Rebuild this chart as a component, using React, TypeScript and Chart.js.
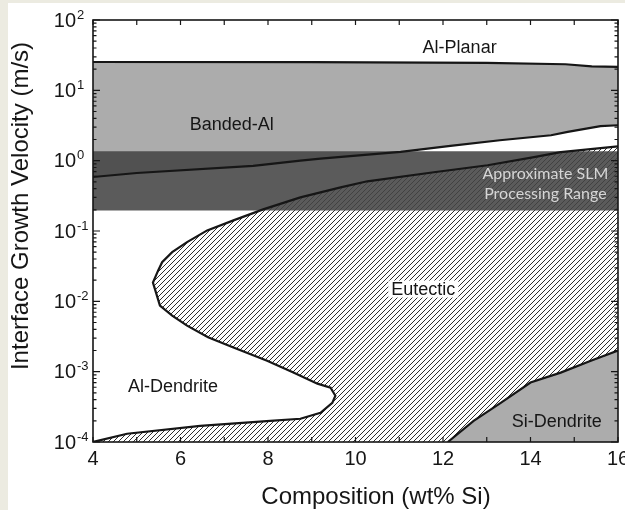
import React, { useEffect, useRef } from 'react';
import { Chart, registerables } from 'chart.js';

Chart.register(...registerables);

// ---- axis ranges & ticks ----
const X_MIN = 4;
const X_MAX = 16;
const Y_MIN = 1e-4;
const Y_MAX = 100;
const xTickStep = 2;
const yTickExponents = [-4, -3, -2, -1, 0, 1, 2];

// ---- Al-Planar / Banded-Al boundary ----
const bandedTopX = [4, 9, 13, 14.8, 15.4, 16];
const bandedTopY = [25.3, 25.2, 24.5, 23.5, 21.9, 21.5];

// ---- Banded-Al lower boundary ----
const bandedBottomX = [4, 5.0, 7.66, 8.74, 9.2, 11.03, 12.17, 13.3, 14.47, 14.85, 15.6, 16];
const bandedBottomY = [0.586, 0.668, 0.841, 1.0, 1.07, 1.33, 1.62, 1.95, 2.3, 2.56, 3.09, 3.19];

// ---- Eutectic boundary (right edge -> nose -> Al-dendrite pocket -> bottom-left) ----
const eutecticX = [16, 14.69, 14.08, 13.02, 11.79, 10.27, 9.66, 8.74, 7.89, 7.21, 6.61, 6.15, 5.81, 5.58, 5.49, 5.37,
  5.53, 5.81, 6.15, 6.63, 7.21, 7.98, 8.58, 9.13, 9.43, 9.54, 9.47, 9.2, 8.74, 8.05, 6.45, 4.78, 4];
const eutecticY = [1.6, 1.32, 1.12, 0.86, 0.684, 0.509, 0.418, 0.301, 0.203, 0.1416, 0.102, 0.0695, 0.05, 0.036, 0.0275, 0.0185,
  0.0087, 0.00628, 0.00452, 0.00308, 0.0022, 0.00143, 9.7e-4, 6.75e-4, 5.9e-4, 4.55e-4, 3.6e-4, 2.6e-4, 2.14e-4, 2.0e-4, 1.7e-4, 1.31e-4, 1e-4];

// ---- Si-Dendrite boundary ----
const siDendriteX = [12.11, 12.7, 13.32, 14.0, 14.69, 15.38, 16];
const siDendriteY = [1e-4, 2.0e-4, 3.6e-4, 7.0e-4, 9.7e-4, 1.43e-3, 2.0e-3];

// ---- Approximate SLM processing range ----
const slmRange = [0.196, 1.36];

const BEIGE = '#ecebe1';
const LIGHT_GRAY = '#acacac';
const BAND = 'rgba(68,68,68,0.88)';
const INK = '#161616';
const SANS = '"Liberation Sans", Arial, Helvetica, sans-serif';

function makeHatch(): CanvasPattern {
  const s = 5;
  const c = document.createElement('canvas');
  c.width = s;
  c.height = s;
  const g = c.getContext('2d')!;
  g.fillStyle = '#ffffff';
  g.fillRect(0, 0, s, s);
  g.strokeStyle = '#2e2e2e';
  g.lineWidth = 1;
  g.beginPath();
  g.moveTo(-1, s + 1);
  g.lineTo(s + 1, -1);
  g.moveTo(-1, 1);
  g.lineTo(1, -1);
  g.moveTo(s - 1, s + 1);
  g.lineTo(s + 1, s - 1);
  g.stroke();
  return g.createPattern(c, 'repeat')!;
}

const pts = (xs: number[], ys: number[]) => xs.map((x, i) => ({ x, y: ys[i] }));

const decor = {
  id: 'decor',
  beforeDraw(chart: any) {
    const { ctx, width, height } = chart;
    ctx.save();
    ctx.fillStyle = BEIGE;
    ctx.fillRect(0, 0, width, height);
    ctx.fillStyle = '#ffffff';
    ctx.fillRect(8, 3, width - 8, height - 3);
    ctx.restore();
  },
  afterDatasetsDraw(chart: any) {
    const { ctx, chartArea: a, scales } = chart;
    const xs = scales.x;
    const ys = scales.y;
    ctx.save();
    // region labels
    const put = (text: string, x: number, y: number, font: string, color: string, box = false) => {
      const px = xs.getPixelForValue(x);
      const py = ys.getPixelForValue(y);
      ctx.font = font;
      ctx.textAlign = 'center';
      ctx.textBaseline = 'middle';
      if (box) {
        const w = ctx.measureText(text).width;
        ctx.fillStyle = '#ffffff';
        ctx.fillRect(px - w / 2 - 3, py - 9, w + 6, 17);
      }
      ctx.fillStyle = color;
      ctx.fillText(text, px, py);
    };
    put('Al-Planar', 12.38, 39.8, `18px ${SANS}`, INK);
    put('Banded-Al', 7.17, 3.24, `18px ${SANS}`, INK);
    put('Eutectic', 11.55, 0.0147, `18px ${SANS}`, INK, true);
    put('Al-Dendrite', 5.83, 6.0e-4, `18px ${SANS}`, INK);
    put('Si-Dendrite', 14.6, 1.94e-4, `18px ${SANS}`, INK);
    put('Approximate SLM', 14.34, 0.64, `16px Lato, "Open Sans", sans-serif`, '#d6d6d6');
    put('Processing Range', 14.34, 0.343, `16px Lato, "Open Sans", sans-serif`, '#d6d6d6');

    // frame
    ctx.strokeStyle = INK;
    ctx.lineWidth = 1.6;
    ctx.strokeRect(a.left, a.top, a.right - a.left, a.bottom - a.top);
    // inward x ticks
    ctx.lineWidth = 1.2;
    ctx.beginPath();
    for (let v = X_MIN; v <= X_MAX; v += 1) {
      const px = xs.getPixelForValue(v);
      ctx.moveTo(px, a.bottom);
      ctx.lineTo(px, a.bottom - 5);
      ctx.moveTo(px, a.top);
      ctx.lineTo(px, a.top + 5);
    }
    // inward log y ticks
    for (const e of yTickExponents) {
      for (let m = 1; m <= 9; m++) {
        const v = m * Math.pow(10, e);
        if (v > Y_MAX * 1.0001) break;
        const py = ys.getPixelForValue(v);
        const len = m === 1 ? 7 : 3.5;
        ctx.moveTo(a.left, py);
        ctx.lineTo(a.left + len, py);
        ctx.moveTo(a.right, py);
        ctx.lineTo(a.right - len, py);
      }
    }
    ctx.stroke();
    ctx.restore();
  },
  afterDraw(chart: any) {
    const { ctx, scales } = chart;
    const ys = scales.y;
    ctx.save();
    ctx.fillStyle = INK;
    // y tick labels with superscript exponents
    for (const e of yTickExponents) {
      const py = ys.getPixelForValue(Math.pow(10, e));
      ctx.font = `20px ${SANS}`;
      ctx.textAlign = 'right';
      ctx.textBaseline = 'middle';
      ctx.fillText('10', 76, py + 1);
      ctx.font = `13px ${SANS}`;
      ctx.textAlign = 'left';
      ctx.fillText(String(e), 77, py - 5);
    }
    // axis titles
    ctx.font = `24px ${SANS}`;
    ctx.textAlign = 'center';
    ctx.textBaseline = 'alphabetic';
    ctx.fillText('Composition (wt% Si)', 376, 504);
    ctx.translate(28, 206);
    ctx.rotate(-Math.PI / 2);
    ctx.fillText('Interface Growth Velocity (m/s)', 0, 0);
    ctx.restore();
  },
};

export default function App() {
  const ref = useRef<HTMLCanvasElement>(null);
  useEffect(() => {
    const canvas = ref.current!;
    const hatch = makeHatch();
    const eutecticCurve = pts(eutecticX, eutecticY);
    const eutecticPolygon = [...eutecticCurve, { x: X_MAX, y: Y_MIN }, { x: X_MAX, y: eutecticY[0] }];
    const bandedTop = pts(bandedTopX, bandedTopY);
    const bandedBottom = pts(bandedBottomX, bandedBottomY);
    const slmTop = [{ x: X_MIN, y: slmRange[1] }, { x: X_MAX, y: slmRange[1] }];
    const slmBottom = [{ x: X_MIN, y: slmRange[0] }, { x: X_MAX, y: slmRange[0] }];

    const chart = new Chart(canvas, {
      type: 'line',
      data: {
        datasets: [
          { label: 'Banded-Al', data: bandedTop, fill: 1, backgroundColor: LIGHT_GRAY, borderWidth: 0, order: 10 },
          { label: 'banded-bottom', data: bandedBottom, fill: false, borderWidth: 0, order: 11 },
          { label: 'Eutectic', data: eutecticPolygon, fill: 'shape', backgroundColor: hatch, borderWidth: 0, order: 9 },
          { label: 'Si-Dendrite', data: pts(siDendriteX, siDendriteY), fill: 'start', backgroundColor: LIGHT_GRAY, borderColor: INK, borderWidth: 2.2, order: 8 },
          { label: 'SLM range', data: slmTop, fill: 5, backgroundColor: BAND, borderWidth: 0, order: 6 },
          { label: 'slm-bottom', data: slmBottom, fill: false, borderWidth: 0, order: 7 },
          { label: 'Al-Planar boundary', data: bandedTop, fill: false, borderColor: INK, borderWidth: 2.2, order: 1 },
          { label: 'Banded boundary', data: bandedBottom, fill: false, borderColor: INK, borderWidth: 2.2, order: 1 },
          { label: 'Eutectic boundary', data: eutecticCurve, fill: false, borderColor: INK, borderWidth: 2.2, order: 1 },
        ] as any,
      },
      options: {
        responsive: false,
        animation: false,
        devicePixelRatio: 1,
        layout: { padding: { top: 20, right: 32, left: 0, bottom: 0 } },
        plugins: {
          legend: { display: false },
          tooltip: { enabled: false },
          filler: { propagate: false },
        },
        elements: { point: { radius: 0 }, line: { tension: 0 } },
        scales: {
          x: {
            type: 'linear',
            min: X_MIN,
            max: X_MAX,
            ticks: {
              stepSize: xTickStep,
              font: { family: SANS, size: 20 },
              color: INK,
              padding: 5,
              maxRotation: 0,
              autoSkip: false,
            },
            grid: { display: false, drawTicks: false },
            border: { display: false },
            afterFit: (s: any) => { s.height = 68; },
          },
          y: {
            type: 'logarithmic',
            min: Y_MIN,
            max: Y_MAX,
            ticks: { display: false },
            grid: { display: false, drawTicks: false },
            border: { display: false },
            afterFit: (s: any) => { s.width = 93; },
          },
        },
      } as any,
      plugins: [decor],
    });
    return () => chart.destroy();
  }, []);

  return (
    <div style={{ position: 'fixed', left: 0, top: 0, width: 625, height: 510, overflow: 'hidden', background: '#fff' }}>
      <canvas ref={ref} width={650} height={510} style={{ display: 'block', width: 650, height: 510 }} />
    </div>
  );
}
